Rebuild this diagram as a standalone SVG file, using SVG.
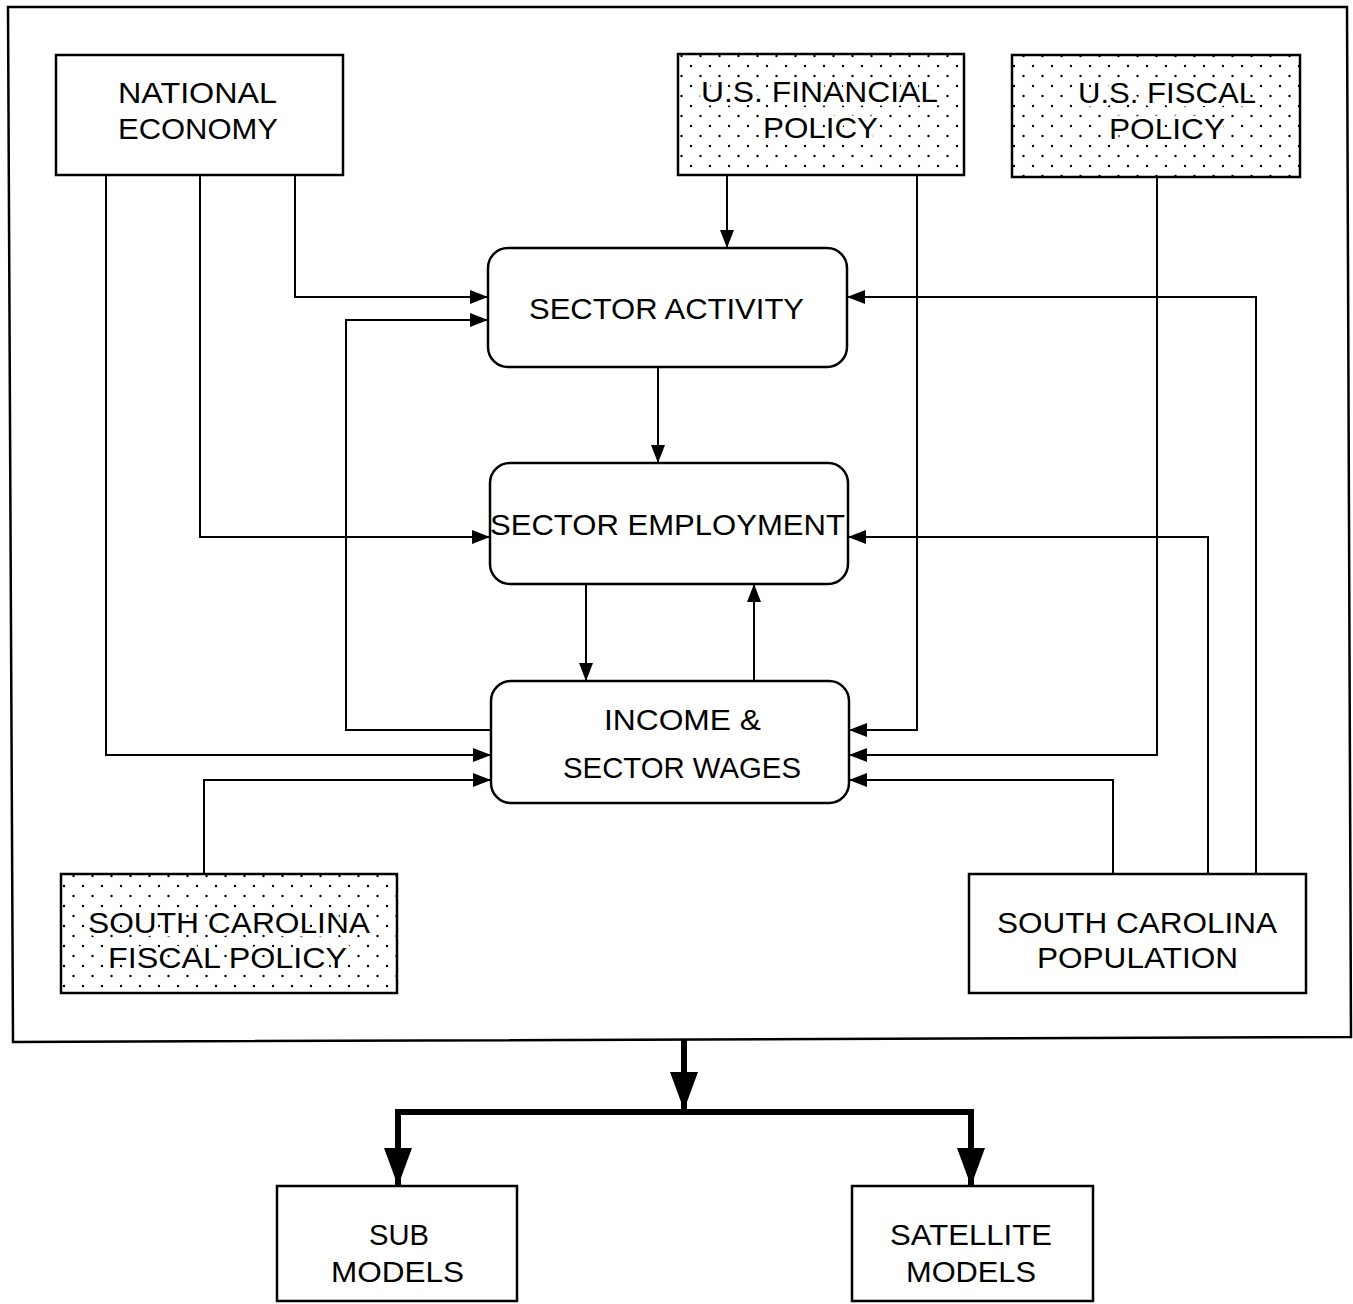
<svg xmlns="http://www.w3.org/2000/svg" width="1353" height="1304" viewBox="0 0 1353 1304">
<style>
  .box { fill: #fff; stroke: #000; stroke-width: 2.5; }
  .dot { fill: url(#dots); stroke: #000; stroke-width: 2.5; }
  .ln { fill: none; stroke: #000; stroke-width: 2; }
  .thick { fill: none; stroke: #000; stroke-width: 6; }
  text { font-family: "Liberation Sans", Arial, sans-serif; font-size: 30px; fill: #000; }
  .halo { paint-order: stroke; stroke: #fff; stroke-width: 7px; stroke-linejoin: round; }
</style>
<defs>
  <pattern id="dots" patternUnits="userSpaceOnUse" width="19" height="20" x="5" y="4">
    <rect width="19" height="20" fill="#fff"/>
    <circle cx="2" cy="2" r="1.2" fill="#000"/>
    <circle cx="11.5" cy="12" r="1.2" fill="#000"/>
  </pattern>
  <marker id="ah" markerUnits="userSpaceOnUse" markerWidth="18" markerHeight="14" refX="18" refY="7" orient="auto">
    <path d="M0,0 L18,7 L0,14 Z" fill="#000"/>
  </marker>
  <marker id="ahb" markerUnits="userSpaceOnUse" markerWidth="38" markerHeight="28" refX="38" refY="14" orient="auto">
    <path d="M0,0 L38,14 L0,28 Z" fill="#000"/>
  </marker>
</defs>
<rect width="1353" height="1304" fill="#fff"/>
<g id="frame">
  <polygon points="8,7 1347,7 1351,1037 13,1042" fill="none" stroke="#000" stroke-width="2.5"/>
</g>
<g id="connectors">
  <polyline class="ln" points="295,175 295,297 488,297" marker-end="url(#ah)"/>
  <polyline class="ln" points="200,175 200,537 490,537" marker-end="url(#ah)"/>
  <polyline class="ln" points="106,175 106,755 491,755" marker-end="url(#ah)"/>
  <polyline class="ln" points="491,730 346,730 346,320 488,320" marker-end="url(#ah)"/>
  <polyline class="ln" points="204,874 204,780 491,780" marker-end="url(#ah)"/>
  <line class="ln" x1="727" y1="175" x2="727" y2="248" marker-end="url(#ah)"/>
  <polyline class="ln" points="917,175 917,730 849,730" marker-end="url(#ah)"/>
  <polyline class="ln" points="1157,177 1157,755 849,755" marker-end="url(#ah)"/>
  <polyline class="ln" points="1256,873 1256,297 847,297" marker-end="url(#ah)"/>
  <polyline class="ln" points="1208,873 1208,537 848,537" marker-end="url(#ah)"/>
  <polyline class="ln" points="1113,873 1113,780 849,780" marker-end="url(#ah)"/>
  <line class="ln" x1="658" y1="367" x2="658" y2="463" marker-end="url(#ah)"/>
  <line class="ln" x1="586" y1="584" x2="586" y2="681" marker-end="url(#ah)"/>
  <line class="ln" x1="754" y1="681" x2="754" y2="584" marker-end="url(#ah)"/>
  <line class="thick" x1="684" y1="1040" x2="684" y2="1110" marker-end="url(#ahb)"/>
  <polyline class="thick" points="398,1185 398,1112 971,1112 971,1185" />
  <line x1="398" y1="1140" x2="398" y2="1186" stroke="#000" stroke-width="6" marker-end="url(#ahb)"/>
  <line x1="971" y1="1140" x2="971" y2="1186" stroke="#000" stroke-width="6" marker-end="url(#ahb)"/>
</g>
<g id="national-economy">
  <rect class="box" x="56" y="55" width="287" height="120"/>
  <text x="118" y="103" textLength="159" lengthAdjust="spacingAndGlyphs">NATIONAL</text>
  <text x="118" y="139" textLength="160" lengthAdjust="spacingAndGlyphs">ECONOMY</text>
</g>
<g id="us-financial-policy">
  <rect class="dot" x="678" y="54" width="286" height="121"/>
  <text class="halo" x="701" y="102" textLength="237" lengthAdjust="spacingAndGlyphs">U.S. FINANCIAL</text>
  <text class="halo" x="763" y="138" textLength="115" lengthAdjust="spacingAndGlyphs">POLICY</text>
</g>
<g id="us-fiscal-policy">
  <rect class="dot" x="1012" y="55" width="288" height="122"/>
  <text class="halo" x="1078" y="103" textLength="178" lengthAdjust="spacingAndGlyphs">U.S. FISCAL</text>
  <text class="halo" x="1109" y="139" textLength="116" lengthAdjust="spacingAndGlyphs">POLICY</text>
</g>
<g id="sector-activity">
  <rect class="box" x="488" y="248" width="359" height="119" rx="20"/>
  <text x="529" y="319" textLength="275" lengthAdjust="spacingAndGlyphs">SECTOR ACTIVITY</text>
</g>
<g id="sector-employment">
  <rect class="box" x="490" y="463" width="358" height="121" rx="20"/>
  <text x="490" y="535" textLength="355" lengthAdjust="spacingAndGlyphs">SECTOR EMPLOYMENT</text>
</g>
<g id="income-wages">
  <rect class="box" x="491" y="681" width="358" height="122" rx="20"/>
  <text x="604" y="730" textLength="157" lengthAdjust="spacingAndGlyphs">INCOME &amp;</text>
  <text x="563" y="778" textLength="238" lengthAdjust="spacingAndGlyphs">SECTOR WAGES</text>
</g>
<g id="sc-fiscal-policy">
  <rect class="dot" x="61" y="874" width="336" height="119"/>
  <text class="halo" x="88" y="933" textLength="282" lengthAdjust="spacingAndGlyphs">SOUTH CAROLINA</text>
  <text class="halo" x="108" y="968" textLength="239" lengthAdjust="spacingAndGlyphs">FISCAL POLICY</text>
</g>
<g id="sc-population">
  <rect class="box" x="969" y="874" width="337" height="119"/>
  <text x="997" y="933" textLength="280" lengthAdjust="spacingAndGlyphs">SOUTH CAROLINA</text>
  <text x="1037" y="968" textLength="201" lengthAdjust="spacingAndGlyphs">POPULATION</text>
</g>
<g id="sub-models">
  <rect class="box" x="277" y="1186" width="240" height="115"/>
  <text x="369" y="1245" textLength="60" lengthAdjust="spacingAndGlyphs">SUB</text>
  <text x="331" y="1282" textLength="133" lengthAdjust="spacingAndGlyphs">MODELS</text>
</g>
<g id="satellite-models">
  <rect class="box" x="852" y="1186" width="241" height="115"/>
  <text x="890" y="1245" textLength="162" lengthAdjust="spacingAndGlyphs">SATELLITE</text>
  <text x="906" y="1282" textLength="130" lengthAdjust="spacingAndGlyphs">MODELS</text>
</g>
</svg>
